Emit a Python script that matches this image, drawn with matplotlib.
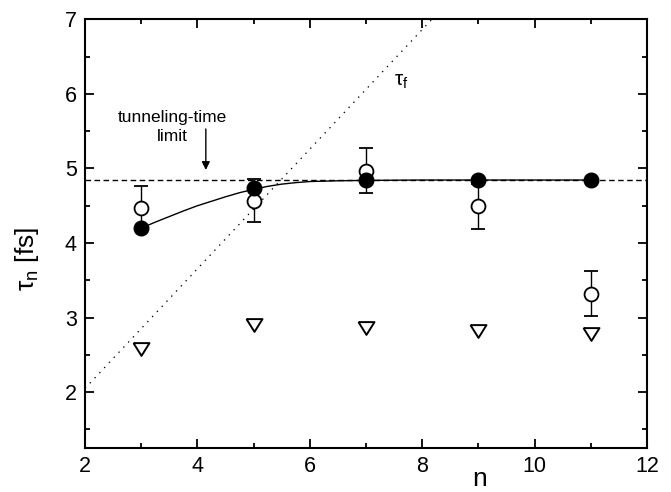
import matplotlib
matplotlib.use("Agg")
import matplotlib.pyplot as plt
from matplotlib.ticker import MultipleLocator

plt.rcParams['font.family'] = ['Liberation Sans', 'DejaVu Sans']
plt.rcParams['mathtext.fontset'] = 'custom'
plt.rcParams['mathtext.rm'] = 'Liberation Sans'
plt.rcParams['mathtext.it'] = 'Liberation Sans:italic'

# data
n_vals = [3, 5, 7, 9, 11]
filled_tau = [4.20, 4.74, 4.84, 4.84, 4.84]
open_tau = [4.47, 4.57, 4.97, 4.49, 3.32]
open_err = [0.30, 0.29, 0.30, 0.30, 0.30]
tri_tau = [2.58, 2.90, 2.86, 2.82, 2.78]
curve_n = [3.0, 3.25, 3.5, 3.75, 4.0, 4.25, 4.5, 4.75, 5.0, 5.25, 5.5, 5.75,
           6.0, 6.5, 7.0, 8.0, 9.0, 10.0, 11.0]
curve_tau = [4.20, 4.28, 4.355, 4.43, 4.50, 4.56, 4.62, 4.675, 4.72, 4.76,
             4.79, 4.81, 4.825, 4.835, 4.84, 4.845, 4.845, 4.845, 4.845]
limit_tau = 4.845
tauf_n = [2.0, 8.17]
tauf_tau = [2.05, 7.0]

fig = plt.figure(figsize=(6.71, 4.92), dpi=100)
ax = fig.add_axes([0.1267, 0.0894, 0.8375, 0.8712])

ax.axhline(limit_tau, color='black', lw=1.0, linestyle=(0, (4, 2.5)), zorder=1)
ax.plot(tauf_n, tauf_tau, color='black', lw=0.9, linestyle=(0, (1.1, 4.5)), zorder=1)
ax.plot(curve_n, curve_tau, color='black', lw=1.0, zorder=2)

ax.errorbar(n_vals, open_tau, yerr=open_err, fmt='o', ms=10, mfc='white',
            mec='black', mew=1.3, ecolor='black', elinewidth=1.0, capsize=4.7,
            capthick=1.0, zorder=3)
ax.plot(n_vals, filled_tau, 'o', ms=10.5, mfc='black', mec='black', zorder=4)
tri = [(-1, 0.8), (1, 0.8), (0, -0.8), (-1, 0.8)]
ax.plot(n_vals, tri_tau, linestyle='none', marker=tri, ms=11.5, mfc='white',
        mec='black', mew=1.4, zorder=3)

ax.set_xlim(2, 12)
ax.set_ylim(1.25, 7)
ax.xaxis.set_major_locator(MultipleLocator(2))
ax.xaxis.set_minor_locator(MultipleLocator(1))
ax.yaxis.set_major_locator(MultipleLocator(1))
ax.yaxis.set_minor_locator(MultipleLocator(0.5))
ax.tick_params(which='both', direction='in', top=True, right=True, width=1.3,
               labelsize=15.5)
ax.tick_params(which='major', length=6.5)
ax.tick_params(which='minor', length=3.6)
ax.tick_params(axis='x', pad=6)
ax.tick_params(axis='y', pad=6)
for s in ax.spines.values():
    s.set_linewidth(1.5)

ax.text(-0.103, 0.441, r'$\mathrm{\tau_n}$ [fs]', transform=ax.transAxes,
        rotation=90, ha='center', va='center', fontsize=19)
fig.text(0.715, 0.012, 'n', ha='center', va='baseline', fontsize=19)

ax.text(3.56, 5.56, 'tunneling-time\nlimit', ha='center', va='center',
        fontsize=12.5, linespacing=1.3)
ax.annotate('', xy=(4.15, 4.98), xytext=(4.15, 5.53),
            arrowprops=dict(arrowstyle='-|>', color='black', lw=1.0,
                            mutation_scale=12, shrinkA=0, shrinkB=0))
ax.text(7.62, 6.17, r'$\mathrm{\tau_f}$', ha='center', va='center', fontsize=15)

fig.savefig('out.png', dpi=100)
